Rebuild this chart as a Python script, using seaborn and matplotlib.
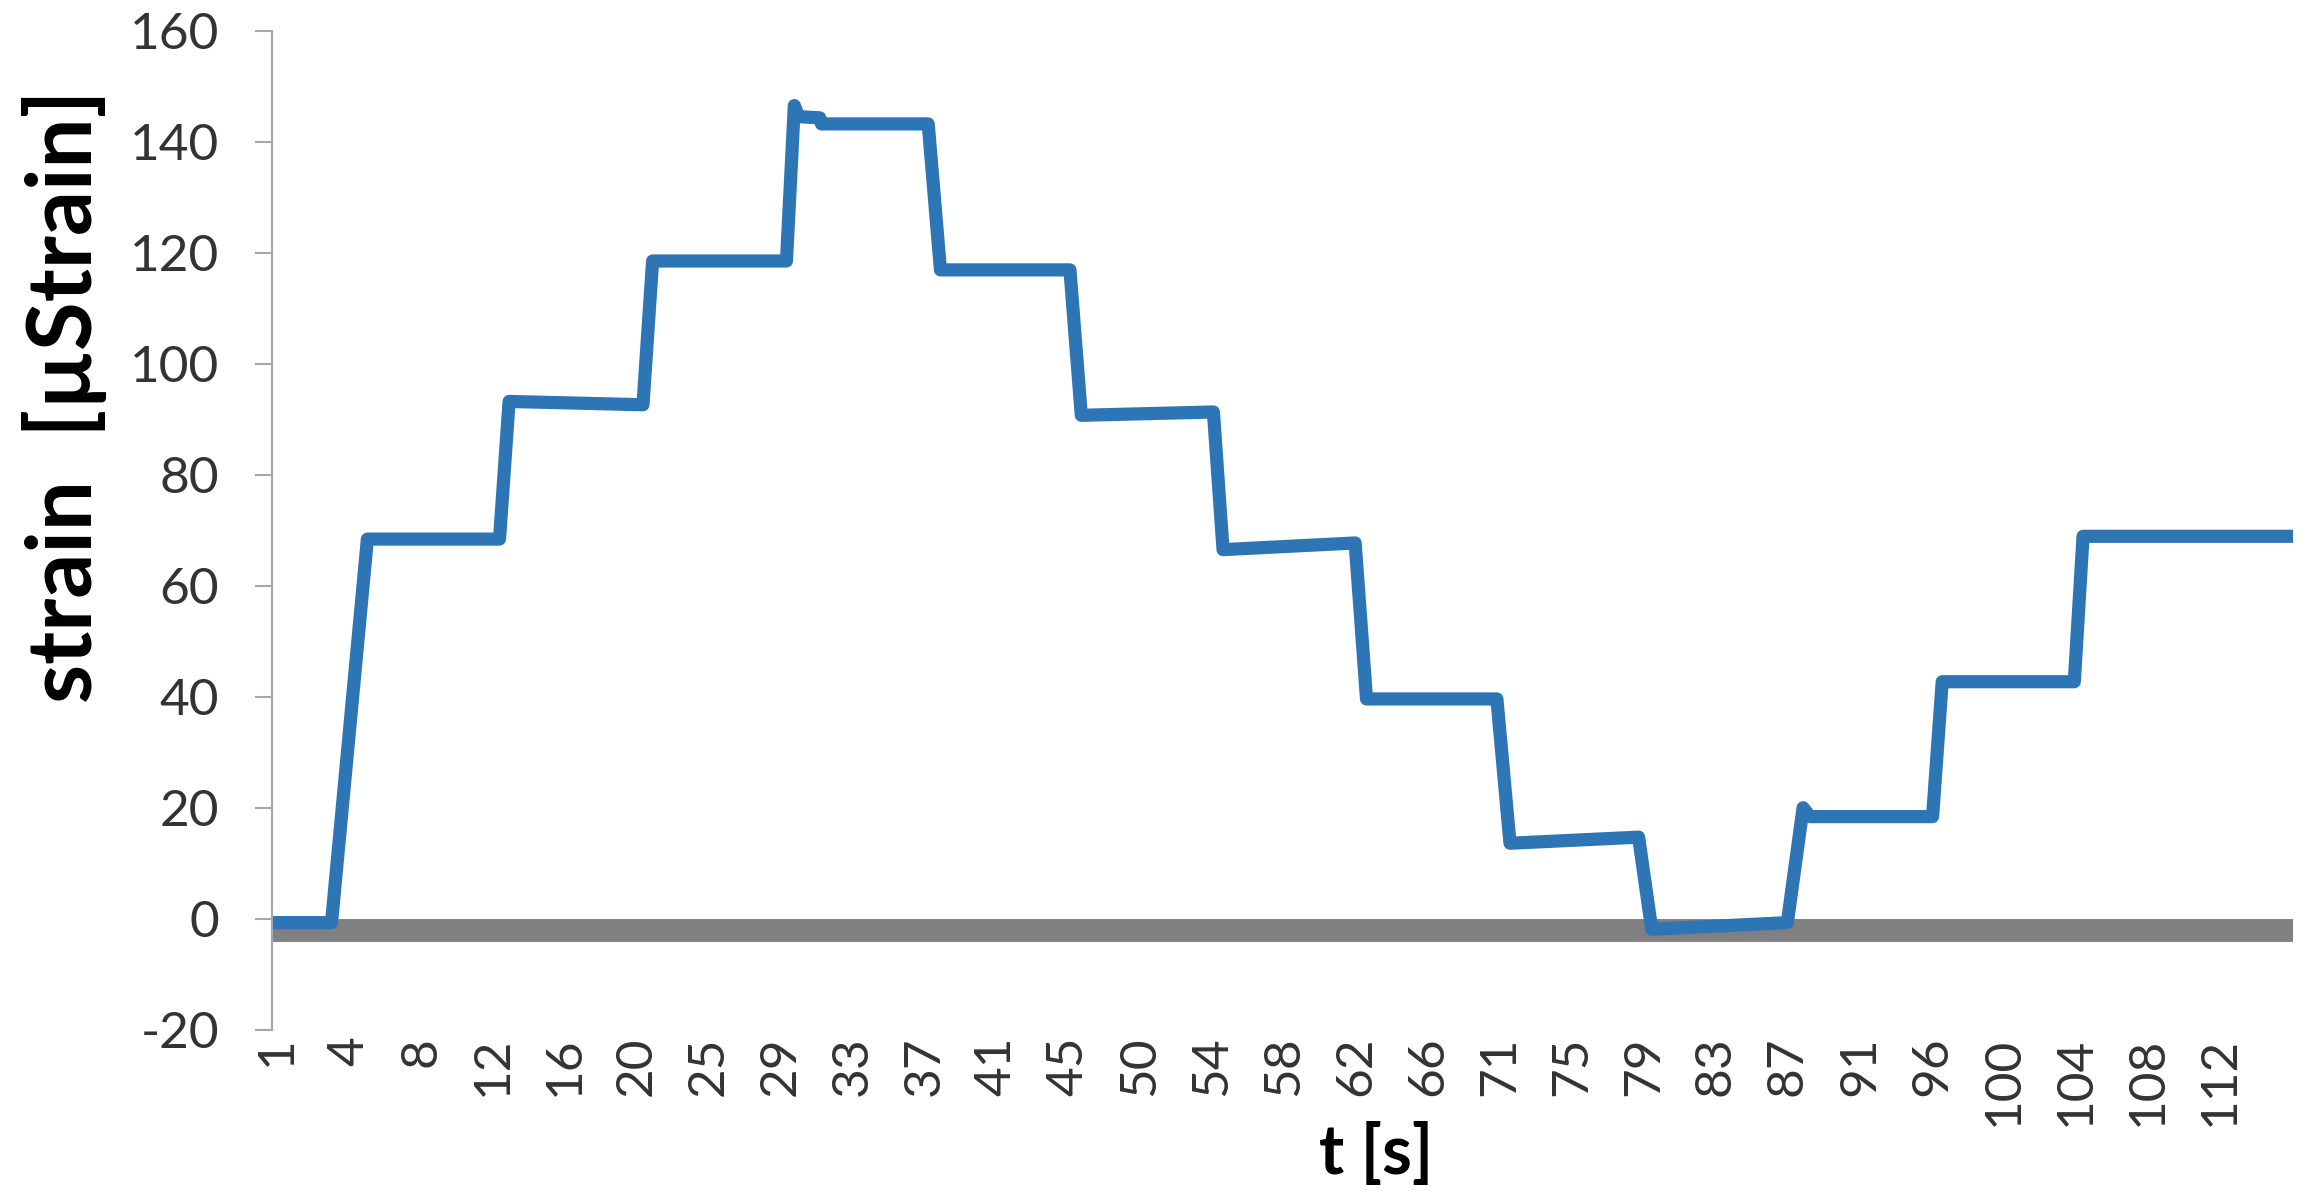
import numpy as np
import matplotlib.pyplot as plt
import seaborn as sns

# step record of the strain gauge (breakpoints)
time_s = [0.7, 4.1, 6.15, 13.7, 14.25, 21.9, 22.45, 30.1, 30.55, 30.8,
          32.0, 32.1, 38.2, 38.9, 46.3, 46.95, 54.5, 55.05, 62.6, 63.25,
          70.7, 71.45, 78.8, 79.55, 87.3, 88.2, 88.6, 95.6, 96.15, 103.7,
          104.2, 116.2]
strain_ue = [-0.7, -0.7, 68.4, 68.4, 93.2, 92.6, 118.5, 118.5, 146.5, 144.5,
             144.3, 143.2, 143.2, 116.9, 116.9, 90.7, 91.3, 66.5, 67.7, 39.6,
             39.6, 13.6, 14.7, -1.9, -0.7, 20.0, 18.4, 18.4, 42.7, 42.7,
             68.9, 68.9]

# thick grey zero band
band_t = [0.7, 116.2]
band_level = [-2.1, -2.1]

# category-style tick labels on the time axis
t_labels = [1, 4, 8, 12, 16, 20, 25, 29, 33, 37, 41, 45, 50, 54, 58, 62, 66,
            71, 75, 79, 83, 87, 91, 96, 100, 104, 108, 112]

sns.set_theme(style="white")
plt.rcParams["font.family"] = ["Lato", "DejaVu Sans"]
plt.rcParams["axes.unicode_minus"] = False

fig = plt.figure(figsize=(23.23, 12.02), dpi=100)
ax = fig.add_axes([0.1171, 0.1433, 0.8700, 0.8312])

sns.lineplot(x=band_t, y=band_level, color="#808080", linewidth=16.5,
             solid_capstyle="butt", estimator=None, ax=ax, zorder=1)
sns.lineplot(x=time_s, y=strain_ue, color="#2E75B6", linewidth=9.5,
             estimator=None, sort=False, ax=ax, zorder=2)

ax.set_xlim(band_t[0], band_t[1])
ax.set_ylim(-20, 160)
ax.set_yticks(range(-20, 161, 20))
ax.set_xticks(np.linspace(t_labels[0], t_labels[-1], len(t_labels)))
ax.set_xticklabels([str(v) for v in t_labels], rotation=90)

for side in ["top", "right", "bottom"]:
    ax.spines[side].set_visible(False)
ax.spines["left"].set_color("#a6a6a6")
ax.spines["left"].set_linewidth(1.5)

ax.tick_params(axis="y", left=True, length=12, width=1.5, color="#a6a6a6",
               pad=26, labelsize=37, labelcolor="#333333")
ax.tick_params(axis="x", bottom=True, length=0, pad=5, labelsize=37,
               labelcolor="#333333")

ax.set_ylabel("strain  [µStrain]", fontsize=64, fontweight="bold", color="black")
ax.yaxis.set_label_coords(-0.0816, 0.634)
ax.set_xlabel("t [s]", fontsize=49, fontweight="bold", color="black")
ax.xaxis.set_label_coords(0.5465, -0.0924)

fig.savefig("out.png", dpi=100)
